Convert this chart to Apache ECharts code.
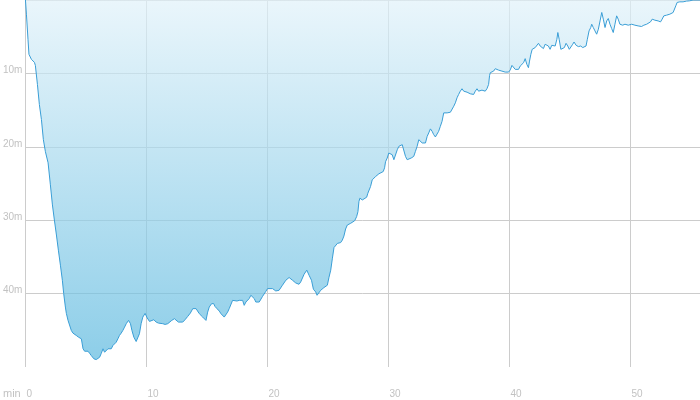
<!DOCTYPE html>
<html>
<head>
<meta charset="utf-8">
<script src="https://cdn.jsdelivr.net/npm/echarts@6/dist/echarts.min.js"></script>
<style>html,body{margin:0;padding:0;background:#fff}#c{width:700px;height:400px}</style>
</head>
<body>
<div id="c"></div>
<script>
// Dive time (minutes)
var minutes = [0,0.08,0.21,0.29,0.37,0.49,0.58,0.74,0.82,0.99,1.15,1.32,1.48,1.65,1.87,2.06,2.23,2.39,2.56,2.72,2.89,3.05,3.16,3.30,3.38,3.52,3.79,3.93,4.20,4.39,4.62,4.76,4.89,5.17,5.30,5.44,5.66,5.85,5.99,6.13,6.27,6.41,6.54,6.68,6.82,6.95,7.09,7.23,7.36,7.50,7.64,7.77,7.91,8.05,8.19,8.33,8.52,8.68,8.80,8.96,9.15,9.29,9.42,9.56,9.70,9.89,10.06,10.25,10.39,10.61,10.80,10.99,11.15,11.35,11.54,11.76,11.90,12.09,12.31,12.45,12.64,12.80,13.00,13.19,13.41,13.63,13.83,13.96,14.10,14.24,14.37,14.51,14.65,14.78,14.92,15.06,15.19,15.39,15.56,15.66,15.83,16.02,16.16,16.30,16.43,16.57,16.71,16.84,16.98,17.12,17.26,17.48,17.67,17.81,17.95,18.08,18.22,18.36,18.49,18.63,18.77,18.91,19.04,19.18,19.32,19.46,19.60,19.73,19.87,20.01,20.14,20.42,20.69,20.83,20.96,21.24,21.52,21.79,22.07,22.34,22.61,22.75,23.03,23.25,23.44,23.64,23.80,23.99,24.10,24.18,24.40,24.67,24.95,25.09,25.23,25.37,25.50,25.78,26.05,26.19,26.32,26.46,26.60,26.74,26.88,27.02,27.21,27.37,27.48,27.56,27.64,27.84,27.97,28.20,28.30,28.52,28.66,28.80,28.94,29.08,29.21,29.35,29.57,29.68,29.76,29.90,30.03,30.17,30.31,30.45,30.59,30.73,30.86,31.00,31.14,31.27,31.41,31.55,31.68,31.88,32.09,32.23,32.37,32.51,32.65,32.79,32.92,33.06,33.20,33.33,33.47,33.61,33.74,33.88,34.02,34.15,34.29,34.43,34.57,34.71,34.85,35.12,35.26,35.40,35.53,35.67,35.80,35.94,36.08,36.22,36.36,36.50,36.63,36.77,36.91,37.04,37.18,37.32,37.45,37.59,37.73,37.86,38.00,38.14,38.28,38.36,38.42,38.56,38.69,38.83,38.97,39.10,39.24,39.38,39.52,39.65,39.79,39.93,40.07,40.21,40.34,40.48,40.62,40.75,40.89,41.03,41.17,41.30,41.44,41.57,41.66,41.77,41.88,41.99,42.13,42.27,42.40,42.54,42.68,42.81,42.95,43.09,43.22,43.36,43.50,43.64,43.78,43.92,44.00,44.11,44.25,44.41,44.54,44.68,44.82,44.95,45.09,45.23,45.34,45.51,45.70,45.89,46.06,46.17,46.33,46.44,46.58,46.72,46.80,46.93,47.07,47.21,47.35,47.49,47.63,47.76,47.90,48.04,48.17,48.31,48.45,48.58,48.72,48.86,48.99,49.13,49.36,49.55,49.82,50.10,50.37,50.64,50.78,50.92,51.11,51.34,51.47,51.66,51.80,52.02,52.29,52.49,52.62,52.76,52.98,53.12,53.26,53.40,53.53,53.67,53.75,53.86,54.08,54.22,54.35,54.49,54.63,54.76,54.90,55.04,55.18,55.75];
// Depth (metres)
var depths = [0,1.93,5.35,7.40,7.67,8.08,8.22,8.50,8.91,11.50,14.24,16.29,19.03,20.67,22.18,25.18,27.92,29.97,32.02,34.08,36.13,38.18,40.00,41.83,42.69,43.65,45.02,45.39,45.70,45.94,46.16,47.52,47.85,47.85,48.13,48.44,48.89,48.99,49.22,48.67,48.13,47.52,47.99,47.99,47.52,47.30,47.52,47.07,46.84,46.62,46.16,45.70,45.39,45.02,44.57,44.10,43.65,44.10,45.02,45.94,46.53,46.62,45.47,44.10,43.20,42.70,43.31,43.79,43.65,43.56,43.88,44.02,44.20,44.10,44.20,44.10,43.88,43.65,43.42,43.65,43.88,44.10,43.88,43.56,43.11,42.65,42.05,41.83,42.05,42.28,42.74,42.97,43.20,42.97,43.65,42.52,41.83,41.37,41.37,41.74,42.05,42.38,42.74,42.97,43.20,42.97,42.52,42.05,41.83,40.92,40.82,41.01,40.92,41.15,40.92,41.60,41.15,40.92,40.68,40.23,40.23,40.68,41.15,41.37,41.15,40.92,40.37,40.10,39.69,39.32,39.55,39.32,39.64,39.78,39.55,38.86,38.18,37.81,38.18,38.55,38.73,38.41,37.36,36.81,37.50,38.18,39.41,39.78,40.23,40.00,39.55,39.18,38.86,37.76,36.81,35.17,33.73,33.16,33.05,32.71,32.16,31.20,30.66,30.89,30.42,30.21,30.07,29.52,28.84,27.47,27.00,27.24,27.14,26.87,26.32,25.42,24.50,24.27,24.05,24.13,23.68,23.50,23.37,22.86,22.04,21.53,20.85,20.63,21.08,21.76,21.53,20.40,19.94,19.94,19.71,19.94,21.31,21.76,21.67,21.53,21.31,20.63,19.94,19.03,19.26,19.48,19.71,19.48,18.58,18.11,17.56,17.89,18.34,18.66,18.48,17.89,17.21,16.53,15.38,15.29,15.38,15.29,15.16,14.47,14.01,13.32,12.87,12.42,12.09,12.42,12.28,12.56,12.42,12.78,12.64,12.87,12.42,12.09,12.42,12.64,12.28,12.42,12.42,12.09,11.50,10.27,9.90,9.82,9.69,9.36,9.22,9.55,9.45,9.69,9.69,9.82,9.59,9.82,9.52,8.91,9.15,9.45,9.36,9.45,9.00,9.22,8.54,7.99,8.77,9.22,8.32,7.40,6.72,6.95,6.48,6.27,5.90,6.27,6.35,6.62,6.03,5.90,6.27,6.72,6.17,6.35,6.27,5.35,4.43,5.35,6.72,6.95,6.48,5.90,6.27,6.72,6.48,6.03,5.72,6.17,6.35,6.27,6.48,6.62,6.27,5.35,4.21,3.75,3.30,3.75,4.21,4.66,3.98,2.85,1.70,2.61,3.75,2.85,2.52,3.30,3.89,4.43,3.30,2.16,2.61,3.30,3.43,3.30,3.43,3.30,3.43,3.53,3.75,3.61,3.43,3.30,3.16,2.98,2.61,2.75,2.85,2.98,2.61,2.16,2.07,2.24,1.93,1.79,1.70,1.48,0.79,0.33,0.25,0.11,0.25,0.01,0.15,0.01,0.11,0,0,0];
var xTicks = [0, 10, 20, 30, 40, 50];
var depthTicks = [10, 20, 30, 40];
var xUnit = 'min';

var data = minutes.map(function (t, i) { return [t, depths[i]]; });
var labelColor = '#c2c2c2';
var gridColor = '#cccccc';
var font = '"Liberation Sans", Arial, sans-serif';

var chart = echarts.init(document.getElementById('c'), null, {renderer: 'canvas'});
chart.setOption({
  animation: false,
  title: {
    text: xUnit, left: 3, top: 387, padding: 0,
    textStyle: {color: labelColor, fontSize: 11, fontFamily: font, fontWeight: 'normal', lineHeight: 13}
  },
  grid: {left: 24, right: 0, top: 0, height: 367, containLabel: false},
  xAxis: {
    type: 'value', min: 0, max: 55.75, interval: 10,
    axisLine: {show: false},
    axisTick: {show: true, length: 34, lineStyle: {color: gridColor}},
    axisLabel: {
      color: labelColor, fontSize: 10, fontFamily: font, align: 'left', margin: 22,
      padding: [0, 0, 0, 1], showMaxLabel: false,
      formatter: function (v) { return xTicks.indexOf(v) >= 0 ? String(v) : ''; }
    },
    splitLine: {show: true, showMaxLine: false, lineStyle: {color: gridColor}}
  },
  yAxis: {
    type: 'value', inverse: true, min: 0, max: 50, interval: 10,
    axisLine: {show: false},
    axisTick: {show: false},
    axisLabel: {
      color: labelColor, fontSize: 10, fontFamily: font, margin: 3,
      verticalAlign: 'bottom', lineHeight: 6,
      formatter: function (v) { return depthTicks.indexOf(v) >= 0 ? v + 'm' : ''; }
    },
    splitLine: {show: true, showMaxLine: false, lineStyle: {color: gridColor}}
  },
  series: [{
    type: 'line',
    data: data,
    showSymbol: false,
    symbol: 'none',
    lineStyle: {color: '#3a9ed6', width: 1},
    areaStyle: {
      origin: 'start',
      opacity: 0.7,
      color: new echarts.graphic.LinearGradient(0, 0, 0, 1, [
        {offset: 0, color: '#e0f1f9'},
        {offset: 1, color: '#5bb8de'}
      ])
    }
  }]
});
</script>
</body>
</html>
